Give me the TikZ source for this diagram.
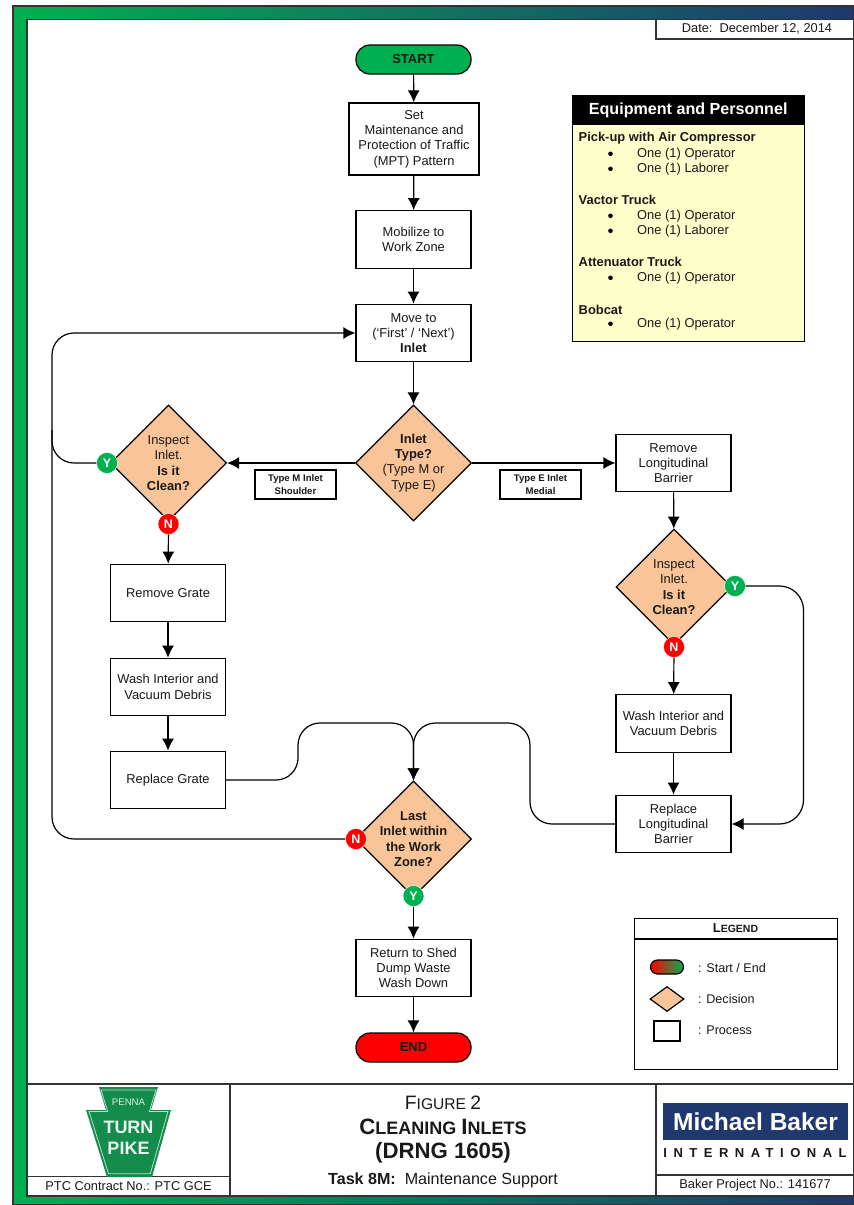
\documentclass[tikz,border=0pt]{standalone}
\usepackage{fontspec}
\setmainfont{Liberation Sans}
\usetikzlibrary{arrows.meta,shapes.geometric,positioning}
\definecolor{ptcgreen}{RGB}{0,176,80}
\definecolor{ptcnavy}{RGB}{31,56,110}
\definecolor{ptcred}{RGB}{255,0,0}
\definecolor{peach}{RGB}{248,196,152}
\definecolor{paleyellow}{RGB}{255,255,204}
\definecolor{keygreen}{RGB}{20,140,75}
\newcommand{\fsz}[1]{\fontsize{#1}{24}\selectfont}
\tikzset{
    every node/.style={font=\fontsize{12.9}{15.3}\selectfont,align=center,inner sep=0pt,text=black!90},
    every label/.style={font=\fontsize{12.9}{15.3}\selectfont,align=center,inner sep=0pt,text=black!90},
    edge/.style={line width=1.2pt},
    proc/.style={draw,edge,fill=white,minimum width=115,minimum height=57.5},
    term/.style={draw,edge,rounded corners=14,minimum width=115,minimum height=29,font=\fontsize{13}{14}\selectfont\bfseries},
    deci/.style={draw,edge,diamond,fill=peach,minimum width=116,minimum height=116},
    tag/.style={draw,edge,fill=white,minimum width=81,minimum height=29,font=\fontsize{9.6}{12.4}\selectfont\bfseries},
    yes/.style={circle,fill=ptcgreen,draw=white,minimum size=21,text=white,font=\fontsize{12.5}{14}\selectfont\bfseries},
    no/.style={circle,fill=ptcred,draw=white,minimum size=21,text=white,font=\fontsize{12.5}{14}\selectfont\bfseries},
    flow/.style={edge,-{Latex[length=12,width=12]}},
    plain/.style={edge},
    rule/.style={black!80,edge},
    eqhead/.style={anchor=west,font=\fontsize{12.9}{15}\selectfont\bfseries},
    eqitem/.style={anchor=west,font=\fontsize{12.9}{15}\selectfont},
    eqdot/.style={circle,fill=black,minimum size=4.6},
    legtext/.style={anchor=west,font=\fontsize{12.6}{15}\selectfont},
    cell/.style={font=\fontsize{12.8}{15}\selectfont}
}
\begin{document}
\begin{tikzpicture}[x=1pt,y=-1pt]
    \useasboundingbox (0,0) rectangle (854,1205);
    % page frame
    \fill[white] (0,0) rectangle (854,1205);
    \shade[left color=ptcgreen,right color=ptcnavy,draw=black!80,edge] (13,6) rectangle (854,1205);
    \draw[rule,fill=white] (27,19.5) rectangle (854,1196);
    % title block
    \draw[rule] (27,1084) -- (854,1084);
    \draw[rule] (230,1084) -- (230,1196);
    \draw[rule] (656,1084) -- (656,1196);
    \draw[rule] (27,1176.5) -- (230,1176.5);
    \draw[rule] (656,1175) -- (854,1175);
    \draw[rule] (656,20) |- (854,39);
    \node[cell] (date) at (757,28.5) {Date:\ \ December 12, 2014};
    % keystone
    \fill[keygreen] (99,1087) -- (158,1087) -- (151,1110) -- (171,1110) -- (152,1177) -- (107,1177) -- (86,1110) -- (106,1110) -- cycle;
    \draw[white!70!keygreen,line width=0.8pt,scale around={0.93:(128.5,1130)}] (99,1087) -- (158,1087) -- (151,1110) -- (171,1110) -- (152,1177) -- (107,1177) -- (86,1110) -- (106,1110) -- cycle;
    \node[font=\fontsize{9.6}{10}\selectfont,text=white!85!keygreen] (penna) at (128.5,1102) {PENNA};
    \node[font=\fontsize{18}{21}\selectfont\bfseries,text=white!92!keygreen] (pike) at (128.5,1137.5) {TURN\\PIKE};
    \node[cell] (contract) at (128.5,1186) {PTC Contract No.: PTC GCE};
    % figure title
    \node (fig) at (443,1102.5) {\fsz{19.4}F\fsz{15.6}IGURE \fsz{19.4}2};
    \node[font=\bfseries] (clean) at (443,1127) {\fsz{22.2}C\fsz{18}LEANING \fsz{22.2}I\fsz{18}NLETS};
    \node[font=\bfseries\fontsize{22.2}{24}\selectfont] (drng) at (443,1153) {(DRNG 1605)};
    \node[font=\fontsize{16.1}{18}\selectfont] (task) at (443,1180) {\textbf{Task 8M:}\ \ Maintenance Support};
    \node[fill=ptcnavy,minimum width=185,minimum height=37,text=white,font=\fontsize{24.5}{28}\selectfont\bfseries] (baker) at (755.5,1121.5) {Michael Baker};
    \node[font=\fontsize{13}{14}\selectfont\bfseries\addfontfeatures{LetterSpace=50}] (intl) at (755,1153) {INTERNATIONAL};
    \node[cell] (bakerno) at (755,1185.5) {Baker Project No.: 141677};
    % flow chart
    \node[term,fill=ptcgreen] (start) at (413.5,59.5) {START};
    \node[proc,minimum width=130,minimum height=72] (mpt) at (414,139) {Set\\Maintenance and\\Protection of Traffic\\(MPT) Pattern};
    \node[proc] (mobil) at (413.5,239.5) {Mobilize to\\Work Zone};
    \node[proc] (move) at (413.5,333) {Move to\\(`First' / `Next')\\\textbf{Inlet}};
    \node[deci,label={center:\textbf{Inlet}\\\textbf{Type?}\\(Type M or\\Type E)}] (kind) at (413.5,463) {};
    \node[deci,label={center:Inspect\\Inlet.\\\textbf{Is it}\\\textbf{Clean?}}] (lcheck) at (168.5,463) {};
    \node[deci,label={center:Inspect\\Inlet.\\\textbf{Is it}\\\textbf{Clean?}}] (rcheck) at (674,587) {};
    \node[deci,label={center:\textbf{Last}\\\textbf{Inlet within}\\\textbf{the Work}\\\textbf{Zone?}}] (last) at (413.5,839) {};
    \node[tag] (typem) at (295.5,484.5) {Type M Inlet\\Shoulder};
    \node[tag] (typee) at (540.5,484.5) {Type E Inlet\\Medial};
    \node[proc] (rbar) at (673.5,463) {Remove\\Longitudinal\\Barrier};
    \node[proc] (rgrate) at (168,593) {Remove Grate};
    \node[proc] (wleft) at (168,687) {Wash Interior and\\Vacuum Debris};
    \node[proc] (pgrate) at (168,780) {Replace Grate};
    \node[proc] (wright) at (673.5,723.5) {Wash Interior and\\Vacuum Debris};
    \node[proc] (pbar) at (673.5,824) {Replace\\Longitudinal\\Barrier};
    \node[proc] (shed) at (413.5,968) {Return to Shed\\Dump Waste\\Wash Down};
    \node[term,fill=ptcred] (stop) at (413.5,1047.5) {END};
    \node[yes] (ly) at (107,463) {Y};
    \node[no] (ln) at (168.5,524) {N};
    \node[yes] (ry) at (735,586) {Y};
    \node[no] (rn) at (674,647) {N};
    \node[no] (tn) at (356,839) {N};
    \node[yes] (ty) at (413.5,896) {Y};
    % connectors
    \draw[flow] (start) -- (mpt);
    \draw[flow] (mpt) -- (mobil);
    \draw[flow] (mobil) -- (move);
    \draw[flow] (move) -- (kind);
    \draw[flow] (kind) -- (lcheck);
    \draw[flow] (kind) -- (rbar);
    \draw[flow] (rbar) -- (rcheck);
    \draw[flow] (ln) -- (rgrate);
    \draw[flow] (rgrate) -- (wleft);
    \draw[flow] (wleft) -- (pgrate);
    \draw[flow] (rn) -- (wright);
    \draw[flow] (wright) -- (pbar);
    \draw[flow] (ty) -- (shed);
    \draw[flow] (shed) -- (stop);
    \coordinate (ll) at (52,839);
    \coordinate (lu) at (52,333);
    \coordinate (lm) at (52,463);
    \coordinate (lj) at (52,430);
    \draw[flow,rounded corners=22] (tn) -- (ll) -- (lu) -- (move);
    \draw[plain,rounded corners=22] (ly) -- (lm) -- (lj);
    \draw[flow,rounded corners=24] (ry) -- (803.5,586) -- (803.5,824) -- (pbar);
    \draw[flow,rounded corners=22] (pgrate) -- (298,780) -- (298,723) -- (413.5,723) -- (last);
    \draw[flow,rounded corners=22] (pbar) -- (530,824) -- (530,723) -- (413.5,723) -- (last);
    % equipment panel
    \node[draw,edge,fill=paleyellow,minimum width=232,minimum height=246,anchor=north west] (equip) at (572,95) {};
    \node[fill=black,minimum width=232,minimum height=30,anchor=north west,text=white,font=\fontsize{16.1}{18}\selectfont\bfseries] (equiphead) at (572,95) {Equipment and Personnel};
    \foreach \y/\t in {137/Pick-up with Air Compressor,199/Vactor Truck,261/Attenuator Truck,309/Bobcat}
        \node[eqhead] at (578.5,\y+0.8) {\t};
    \foreach \y/\t in {153/One (1) Operator,168/One (1) Laborer,215/One (1) Operator,230/One (1) Laborer,277/One (1) Operator,323/One (1) Operator}{
        \node[eqdot] at (610.5,\y+0.8) {};
        \node[eqitem] at (637,\y+0.8) {\t};
    }
    % legend
    \node[draw,edge,fill=white,minimum width=203,minimum height=151,anchor=north west] (legend) at (634,918) {};
    \draw[edge] (634,939) -- (837,939);
    \node[font=\bfseries] (legendhead) at (735.5,928) {\fsz{13}L\fsz{10.5}EGEND};
    \node[draw,edge,rounded corners=7,left color=ptcred,right color=ptcgreen,minimum width=33,minimum height=14] (legterm) at (667,967) {};
    \node[draw,edge,diamond,fill=peach,minimum width=34,minimum height=25] (legdeci) at (667,999) {};
    \node[draw,edge,fill=white,minimum width=26,minimum height=20] (legproc) at (667,1031) {};
    \node[legtext] at (698,968) {: Start / End};
    \node[legtext] at (698,999) {: Decision};
    \node[legtext] at (698,1030) {: Process};
\end{tikzpicture}
\end{document}
